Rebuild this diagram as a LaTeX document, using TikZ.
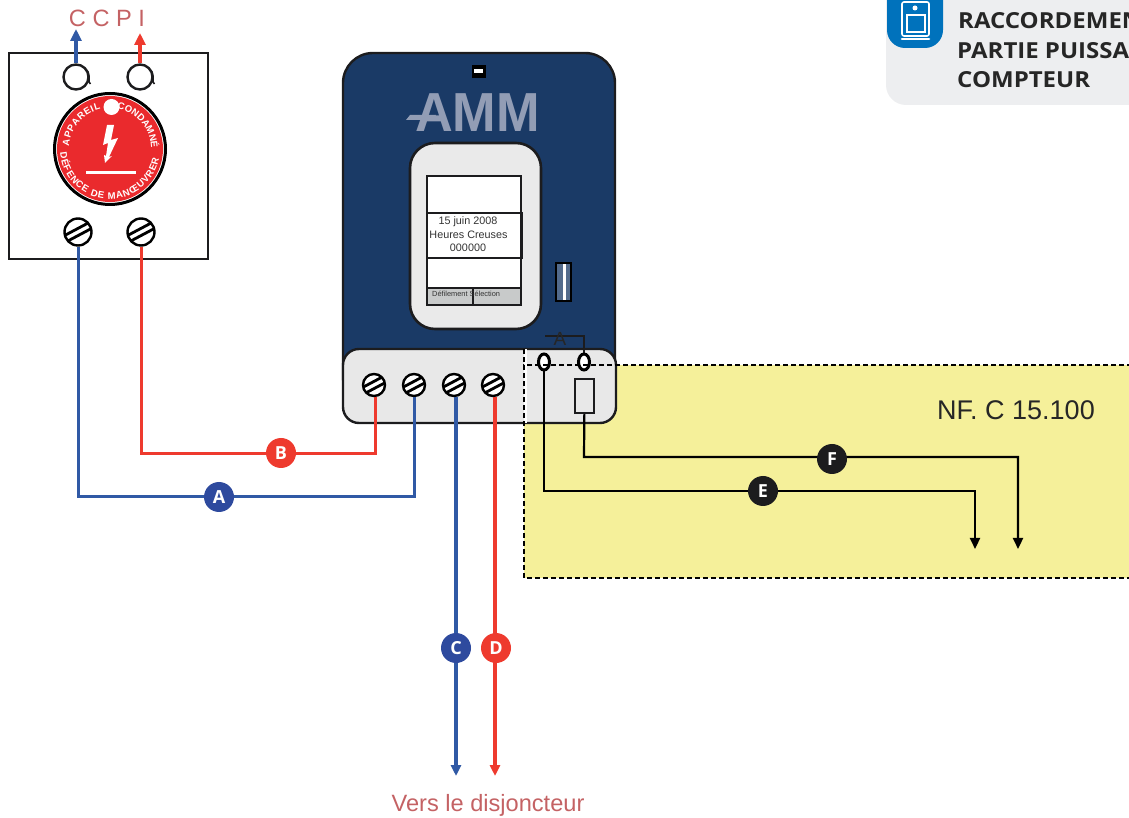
\documentclass[tikz,border=0pt]{standalone}
\usepackage{fontspec}
\setmainfont{Liberation Sans}
\newfontfamily\headfont{Open Sans}
\usetikzlibrary{arrows.meta,shapes.geometric,decorations.text}
\definecolor{wireblue}{HTML}{3059A5}
\definecolor{wirered}{HTML}{EE3A2E}
\definecolor{badgeblue}{HTML}{2E4A9E}
\definecolor{badgeblack}{HTML}{1C1C1E}
\definecolor{bodyblue}{HTML}{1A3A66}
\definecolor{panelgrey}{HTML}{E8E8E8}
\definecolor{keygrey}{HTML}{C8CACA}
\definecolor{zoneyellow}{HTML}{F5F09A}
\definecolor{labelred}{HTML}{C46264}
\definecolor{logogrey}{HTML}{929DB5}
\definecolor{headgrey}{HTML}{EDEEF0}
\definecolor{headblue}{HTML}{0072BC}
\definecolor{discred}{HTML}{EA2A2D}
\tikzset{
    screw/.style={circle, draw=black, fill=white, line width=2.4pt, inner sep=0pt, minimum size=#1,
        path picture={
            \draw[shift={(path picture bounding box.center)}, line width=2.8pt] (-20,-14.2) -- (20,7);
            \draw[shift={(path picture bounding box.center)}, line width=2.8pt] (-20,-7) -- (20,14.2);
        }},
    ring/.style={circle, draw=badgeblack, line width=2.4pt, inner sep=0pt, minimum size=25pt},
    oval/.style={ellipse, draw=black, fill=white, line width=3pt, inner sep=0pt, minimum width=11pt, minimum height=16pt},
    badge/.style={circle, fill=#1, text=white, inner sep=0pt, minimum size=30pt,
        font=\headfont\bfseries\fontsize{18}{18}\selectfont},
    bluewire/.style={draw=wireblue, line width=#1},
    redwire/.style={draw=wirered, line width=#1},
    blackwire/.style={draw=black, line width=2.2pt},
    tip/.style={-{Triangle[length=#1,width=10pt]}},
    redlabel/.style={text=labelred, font=\fontsize{23.6}{24}\selectfont},
    lcdline/.style={text=black!80, font=\fontsize{10.8}{11}\selectfont},
    headline/.style={anchor=base west, inner sep=0pt, yscale=0.92, text=black!85, font=\headfont\bfseries\fontsize{24}{24}\selectfont},
    dashline/.style={draw=black, line width=2.2pt, dash pattern=on 5pt off 3pt},
    discword/.style={decorate, decoration={text along path, text align=fit to path, text={|\color{white}\bfseries\fontsize{9.5}{10}\selectfont|#1}}}
}
\begin{document}
\begin{tikzpicture}[x=1pt,y=1pt]
    \useasboundingbox (0,0) rectangle (1129,817);
    \clip (0,0) rectangle (1129,817);

    % header
    \fill[headgrey, rounded corners=20pt] (886,840) rectangle (1170,712);
    \fill[headblue, rounded corners=18pt] (887,840) rectangle (943,769);
    \draw[white, line width=1.6pt, rounded corners=2pt] (902,815) rectangle (929,781);
    \fill[white] (915,809) circle (2.5pt);
    \draw[white, line width=1.4pt] (907,802) rectangle (925,785);
    \draw[white, line width=2.6pt, line cap=round] (902,778) -- (929,778);
    \node [headline] (headA) at (958,788) {RACCORDEMEN};
    \node [headline] (headB) at (957,758) {PARTIE PUISSA};
    \node [headline] (headC) at (957,729) {COMPTEUR};

    % zone
    \fill[zoneyellow] (524,452) rectangle (1140,239);

    % switch
    \draw[badgeblack, line width=2.6pt] (9,764) rectangle (208,558);
    \node [ring] (ringL) at (76,740) {};
    \node [ring] (ringR) at (140,740) {};
    \draw[badgeblack, line width=1.6pt] (85,748) .. controls (88,746) and (89,744) .. (89,741) -- (89,735) -- (90.5,733);
    \draw[badgeblack, line width=1.6pt] (149,748) .. controls (152,746) and (153,744) .. (153,741) -- (153,735) -- (154.5,733);
    \node [screw=27pt] (scrL) at (78,585) {};
    \node [screw=27pt] (scrR) at (141,585) {};
    \filldraw[fill=white, draw=black, line width=3pt] (110,668) circle (55.5pt);
    \fill[discred] (110,668) circle (53pt);
    \fill[white] (111.5,710) circle (8pt);
    \fill[white] (107,692) -- (114,692) -- (111,677) -- (118,679) -- (109,660) -- (112,661) -- (105,654) -- (104,662) -- (106,661) -- (108,674) -- (103,672) -- cycle;
    \fill[white] (86,645.5) rectangle (136,643);
    \path[discword=APPAREIL] (110,668) ++(176:41) arc (176:103:41);
    \path[discword=CONDAMNÉ] (110,668) ++(80:41) arc (80:1:41);
    \path[discword=DÉFENCE DE MANŒUVRER] (110,668) ++(184:50) arc (184:349:50);
    \node [redlabel] (ccpi) at (107,799) {C C P I};
    \coordinate (tipL) at (76,788);
    \coordinate (tipR) at (140,784);
    \draw[bluewire=3.5pt, -{Triangle[length=12pt,width=11pt]}, wireblue] (ringL) -- (tipL);
    \draw[redwire=3.5pt, -{Triangle[length=12pt,width=11pt]}, wirered] (ringR) -- (tipR);

    % meter
    \draw[fill=bodyblue, draw=badgeblack, line width=2.4pt, rounded corners=30pt] (343,410) -- (343,764) -- (615,764) -- (615,410) -- cycle;
    \draw[fill=panelgrey, draw=badgeblack, line width=2.4pt, rounded corners=16pt] (343,468) rectangle (616,394);
    \filldraw[fill=black, draw=black] (472,752) rectangle (485,740);
    \fill[white] (474,748) rectangle (483,744);
    \node [anchor=base east, text=logogrey, inner sep=0pt, xscale=0.95, font=\bfseries\fontsize{55}{55}\selectfont] (logo) at (540,685) {AMM};
    \fill[logogrey] (410,702) -- (436,702) -- (434,697) -- (406,697) -- cycle;
    \draw[fill=panelgrey!90!white, draw=badgeblack, line width=2.6pt, rounded corners=25pt] (410,674) rectangle (541,488);
    \filldraw[fill=white, draw=badgeblack, line width=2.6pt] (427,641) rectangle (521,512);
    \filldraw[fill=keygrey, draw=badgeblack, line width=2.6pt] (427,529) rectangle (521,512);
    \draw[badgeblack, line width=2.6pt] (427,604) rectangle (522,559);
    \draw[badgeblack, line width=2.6pt] (473,529) -- (473,512);
    \node [lcdline] (lcdA) at (468,595) {15 juin 2008};
    \node [lcdline] (lcdB) at (468.5,582) {Heures Creuses};
    \node [lcdline] (lcdC) at (468,569) {000000};
    \node [anchor=west, inner sep=0pt, text=black!80, font=\fontsize{7.4}{8}\selectfont] (lcdD) at (432,523) {Défilement Sélection};
    \filldraw[fill=bodyblue!75!white, draw=black, line width=2.6pt] (556,554) rectangle (571,516);
    \fill[white] (562.5,553) rectangle (565.5,517);

    \draw[badgeblack, line width=2.4pt] (545,481) -- (584,481) -- (584,462);
    \node [text=black!85, inner sep=0pt, font=\fontsize{19}{19}\selectfont] (markA) at (560,478) {A};

    \node [screw=22pt] (scrA) at (374,432) {};
    \node [screw=22pt] (scrB) at (414,432) {};
    \node [screw=22pt] (scrC) at (454,432) {};
    \node [screw=22pt] (scrD) at (493,432) {};
    \node [oval] (ovalE) at (544,455) {};
    \node [oval] (ovalF) at (584,455) {};
    \node [draw=badgeblack, fill=panelgrey, line width=2.4pt, inner sep=0pt, minimum width=19pt, minimum height=34pt] (rectF) at (584.5,421) {};

    % dashes of the zone
    \draw[white, line width=2.2pt] (525.5,468) -- (525.5,394);
    \draw[dashline] (1140,452) -- (524,452) -- (524,239) -- (1140,239);
    \draw[dashline] (524,468) -- (524,452);
    \node [text=black!85, font=\fontsize{27}{27}\selectfont] (norm) at (1016,407) {NF. C 15.100};

    % wires
    \coordinate (cornA) at (78,320);
    \coordinate (cornAb) at (414,320);
    \coordinate (cornB) at (141,363);
    \coordinate (cornBb) at (375,363);
    \coordinate (tipC) at (456,41);
    \coordinate (tipD) at (495,41);
    \coordinate (cornE) at (544,326);
    \coordinate (cornEb) at (975,326);
    \coordinate (tipE) at (975,268);
    \coordinate (cornF) at (584,360);
    \coordinate (cornFb) at (1018,360);
    \coordinate (tipF) at (1018,268);
    \draw[bluewire=3pt] (scrL) -- (cornA) -- (cornAb) -- (scrB);
    \draw[redwire=3pt] (scrR) -- (cornB) -- (cornBb) -- (scrA.-85 -| cornBb);
    \draw[bluewire=3.8pt, tip=11pt, wireblue] (tipC |- scrC.-80) -- (tipC);
    \draw[redwire=3.8pt, tip=11pt, wirered] (tipD |- scrD.-80) -- (tipD);
    \draw[blackwire, tip=11pt] (ovalE) -- (cornE) -- (cornEb) -- (tipE);
    \draw[blackwire, tip=11pt] (rectF) -- (cornF) -- (cornFb) -- (tipF);

    \node [badge=badgeblue] (badgeA) at (219,320) {A};
    \node [badge=wirered] (badgeB) at (281,364) {B};
    \node [badge=badgeblue] (badgeC) at (456,169) {C};
    \node [badge=wirered] (badgeD) at (496,169) {D};
    \node [badge=badgeblack] (badgeE) at (763,326) {E};
    \node [badge=badgeblack] (badgeF) at (832,358) {F};

    \node [redlabel] (vers) at (488,12) {Vers le disjoncteur};
\end{tikzpicture}
\end{document}
